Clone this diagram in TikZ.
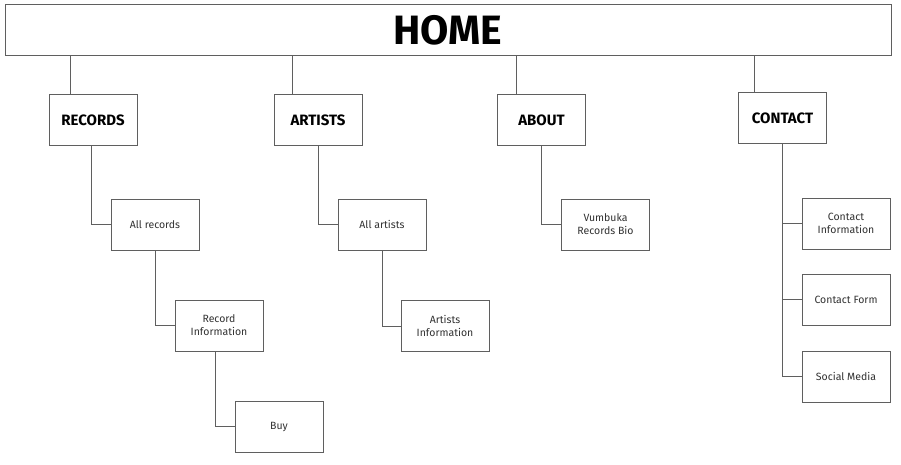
\documentclass[tikz,border=0pt]{standalone}
\usepackage{fontspec}
\setmainfont{Fira Sans}
\usepackage{tikz}
\usetikzlibrary{calc}

\definecolor{linegray}{RGB}{95,95,95}
\definecolor{textgray}{RGB}{50,50,50}

\begin{document}
\begin{tikzpicture}[x=1pt,y=-1pt,
    page/.style={draw=linegray, line width=1pt, fill=white, minimum width=88pt, minimum height=51pt, inner sep=2pt, font=\fontsize{15}{17}\selectfont\bfseries, text=black},
    subpage/.style={page, font=\fontsize{10.5}{13}\selectfont, text=textgray, align=center},
    link/.style={draw=linegray, line width=1pt}]
      \useasboundingbox (0,0) rectangle (901,465);

      \node[page, minimum width=886pt, font=\fontsize{41}{43}\selectfont\bfseries] (home) at (448,30.5){HOME};

      \node[page] (rec) at (93,120){RECORDS};
      \node[page] (art) at (318,120.5){ARTISTS};
      \node[page] (abo) at (541.5,120.5){ABOUT};
      \node[page] (con) at (782.5,118.5){CONTACT};

      \node[subpage] (allrec) at (155,224.5){All records};
      \node[subpage] (recinfo) at (219,325.5){Record\\Information};
      \node[subpage] (buy) at (279,426.5){Buy};

      \node[subpage] (allart) at (382,224.5){All artists};
      \node[subpage] (artinfo) at (445,326){Artists\\Information};

      \node[subpage] (bio) at (605.5,224.5){Vumbuka\\Records Bio};

      \node[subpage] (cinfo) at (846,223.5){Contact\\Information};
      \node[subpage] (cform) at (846,299.5){Contact Form};
      \node[subpage] (social) at (846,376.5){Social Media};

      \draw[link] ([xshift=22pt]rec.north west) -- ([xshift=22pt]rec.north west |- home.south);
      \draw[link] ([xshift=19pt]art.north west) -- ([xshift=19pt]art.north west |- home.south);
      \draw[link] ([xshift=19pt]abo.north west) -- ([xshift=19pt]abo.north west |- home.south);
      \draw[link] ([xshift=16pt]con.north west) -- ([xshift=16pt]con.north west |- home.south);

      \draw[link] ([xshift=-2pt]rec.south) |- (allrec.west);
      \draw[link] (allrec.south) |- (recinfo.west);
      \draw[link] ([xshift=-4pt]recinfo.south) |- (buy.west);

      \draw[link] (art.south) |- (allart.west);
      \draw[link] (allart.south) |- (artinfo.west);

      \draw[link] (abo.south) |- (bio.west);

      \draw[link] (con.south) |- (cinfo.west);
      \draw[link] (con.south) |- (cform.west);
      \draw[link] (con.south) |- (social.west);
    \end{tikzpicture}
\end{document}
